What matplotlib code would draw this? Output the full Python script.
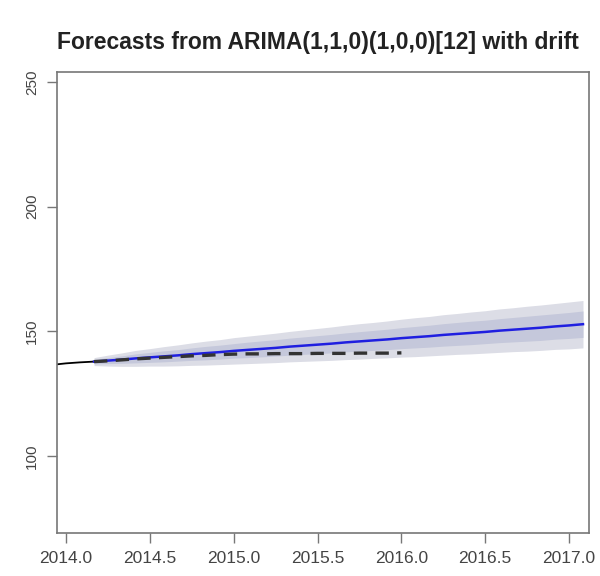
import numpy as np
import matplotlib
matplotlib.use("Agg")
import matplotlib.pyplot as plt

plt.rcParams['font.family'] = ['Liberation Sans', 'DejaVu Sans']

# observed series (end of training data)
hist_t = [2013.833, 2013.917, 2014.000, 2014.083]
hist_y = [134.8, 136.6, 137.2, 137.6]

# forecast months and point forecasts
fc_t = [2014.167, 2014.250, 2014.333, 2014.417, 2014.500, 2014.583,
        2014.667, 2014.750, 2014.833, 2014.917, 2015.000, 2015.083,
        2015.167, 2015.250, 2015.333, 2015.417, 2015.500, 2015.583,
        2015.667, 2015.750, 2015.833, 2015.917, 2016.000, 2016.083,
        2016.167, 2016.250, 2016.333, 2016.417, 2016.500, 2016.583,
        2016.667, 2016.750, 2016.833, 2016.917, 2017.000, 2017.083]
fc_mean = [137.9, 138.3, 138.7, 139.2, 139.6, 140.0,
           140.4, 140.9, 141.3, 141.7, 142.2, 142.6,
           143.0, 143.4, 143.9, 144.3, 144.7, 145.1,
           145.6, 146.0, 146.4, 146.8, 147.3, 147.7,
           148.1, 148.6, 149.0, 149.4, 149.8, 150.3,
           150.7, 151.1, 151.5, 152.0, 152.4, 152.9]
# half widths of the prediction intervals
half80 = [0.9, 1.2, 1.5, 1.8, 2.0, 2.2, 2.3, 2.5, 2.7, 2.8, 2.9, 3.1,
          3.2, 3.3, 3.4, 3.5, 3.6, 3.7, 3.8, 3.9, 4.0, 4.1, 4.2, 4.3,
          4.4, 4.5, 4.6, 4.7, 4.7, 4.8, 4.9, 5.0, 5.1, 5.1, 5.2, 5.3]
half95 = [1.6, 2.2, 2.7, 3.2, 3.5, 3.9, 4.2, 4.5, 4.8, 5.0, 5.3, 5.5,
          5.7, 5.9, 6.1, 6.3, 6.5, 6.7, 6.9, 7.1, 7.2, 7.4, 7.6, 7.8,
          7.9, 8.1, 8.2, 8.4, 8.5, 8.7, 8.8, 9.0, 9.1, 9.2, 9.4, 9.5]

# held-out test data (dashed)
test_t = [2014.167, 2014.250, 2014.333, 2014.417, 2014.500, 2014.583,
          2014.667, 2014.750, 2014.833, 2014.917, 2015.000, 2015.083,
          2015.167, 2015.250, 2015.333, 2015.417, 2015.500, 2015.583,
          2015.667, 2015.750, 2015.833, 2015.917, 2016.000]
test_y = [137.9, 138.2, 138.6, 139.0, 139.3, 139.6,
          139.9, 140.2, 140.4, 140.7, 140.9, 141.0,
          141.0, 141.1, 141.1, 141.1, 141.2, 141.2,
          141.2, 141.3, 141.3, 141.3, 141.4]

xticks = [2014.0, 2014.5, 2015.0, 2015.5, 2016.0, 2016.5, 2017.0]
yticks = [100, 150, 200, 250]

m = np.array(fc_mean)
h80 = np.array(half80)
h95 = np.array(half95)

fig = plt.figure(figsize=(6, 5.76), dpi=100)
ax = fig.add_axes([0.095, 0.0747, 0.887, 0.8003])

ax.fill_between(fc_t, m - h95, m + h95, color='#dcdde6', lw=0)
ax.fill_between(fc_t, m - h80, m + h80, color='#c5c8db', lw=0)
ax.plot(hist_t + [fc_t[0]], hist_y + [fc_mean[0]], color='black', lw=1.3)
ax.plot(fc_t, fc_mean, color='#1f1fe0', lw=1.8)
ax.plot(test_t, test_y, color='#333333', lw=2.4, ls=(0, (4, 2.5)))

ax.set_xlim(2013.946, 2017.12)
ax.set_ylim(69.2, 254)
ax.set_xticks(xticks)
ax.set_xticklabels(['%.1f' % v for v in xticks])
ax.set_yticks(yticks)
ax.set_yticklabels([str(v) for v in yticks], rotation=90, va='center')

for s in ax.spines.values():
    s.set_color('#777777')
    s.set_linewidth(1.2)
ax.tick_params(axis='both', direction='out', length=7, width=1, color='#777777',
               labelcolor='#444444', pad=6)
ax.tick_params(axis='x', labelsize=12.5)
ax.tick_params(axis='y', labelsize=11)

fig.text(0.53, 0.927, 'Forecasts from ARIMA(1,1,0)(1,0,0)[12] with drift',
         ha='center', va='center', fontsize=16.5, fontweight='bold', color='#222222')

fig.savefig('out.png', dpi=100)
